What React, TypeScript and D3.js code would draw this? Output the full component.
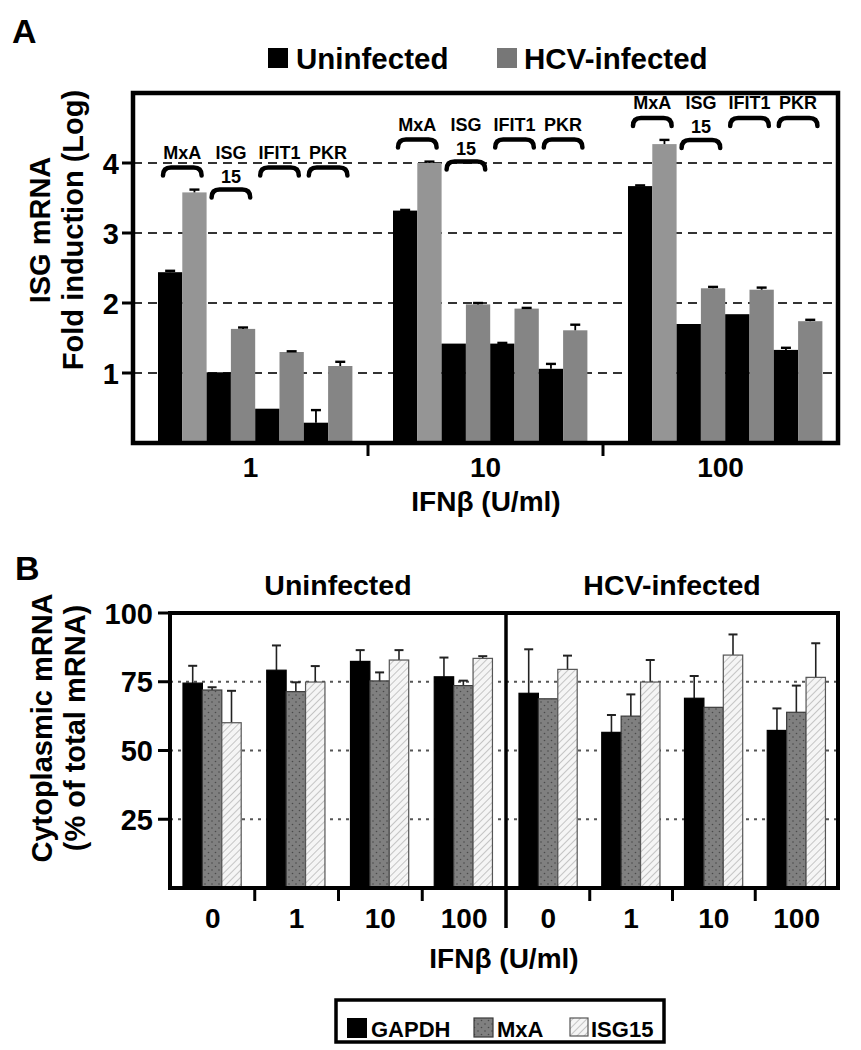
import React from "react";
import * as d3 from "d3";

// ---------- Panel A data ----------
const dosesA = ["1", "10", "100"];
const genesA = ["MxA", "ISG15", "IFIT1", "PKR"];
const uninfA = [
  [2.44, 1.01, 0.49, 0.29],
  [3.32, 1.42, 1.42, 1.06],
  [3.67, 1.7, 1.84, 1.33],
];
const uninfAErr = [
  [0.02, 0.0, 0.0, 0.18],
  [0.01, 0.0, 0.01, 0.07],
  [0.01, 0.0, 0.0, 0.03],
];
const hcvA = [
  [3.58, 1.63, 1.3, 1.1],
  [4.0, 1.98, 1.92, 1.61],
  [4.27, 2.21, 2.19, 1.74],
];
const hcvAErr = [
  [0.04, 0.02, 0.01, 0.06],
  [0.02, 0.02, 0.01, 0.08],
  [0.06, 0.02, 0.03, 0.02],
];
const yTicksA = [1, 2, 3, 4];
const legendA = ["Uninfected", "HCV-infected"];

// ---------- Panel B data ----------
const conditionsB = ["Uninfected", "HCV-infected"];
const dosesB = ["0", "1", "10", "100"];
const seriesB = ["GAPDH", "MxA", "ISG15"];
const gapdhB = [74.5, 79.2, 82.4, 76.8, 70.8, 56.6, 69.0, 57.3];
const gapdhErr = [6.3, 9.0, 4.1, 7.0, 16.0, 6.3, 8.1, 8.0];
const mxaB = [72.0, 71.4, 75.3, 73.6, 68.8, 62.5, 65.7, 63.9];
const mxaErr = [1.0, 3.4, 3.1, 1.8, 0, 7.9, 0, 9.7];
const isgB = [60.1, 74.9, 82.9, 83.5, 79.5, 74.9, 84.7, 76.6];
const isgErr = [11.6, 5.8, 3.6, 0.8, 5.0, 8.0, 7.5, 12.4];
const yTicksB = [25, 50, 75, 100];

const SANS = "'Liberation Sans', Arial, Helvetica, sans-serif";

const hcvGray = ["#959595", "#858585", "#858585", "#858585"];

function Bracket({ x0, x1, y }: { x0: number; x1: number; y: number }) {
  const r = 6;
  const d = `M${x0},${y + 8} Q${x0},${y} ${x0 + r + 2},${y} L${x1 - r - 2},${y} Q${x1},${y} ${x1},${y + 8}`;
  return <path d={d} fill="none" stroke="#000" strokeWidth={4.5} strokeLinecap="round" />;
}

function PanelA() {
  const left = 133, right = 838, top = 93, bottom = 443;
  const y = d3.scaleLinear().domain([0, 5]).range([bottom, top]);
  const gx = d3.scaleBand<string>().domain(dosesA).range([left, right]);
  const inner = d3.scaleBand<number>().domain(d3.range(8)).range([25, 25 + 8 * 24.3]);
  const bw = inner.bandwidth();

  const bars: any[] = [];
  const labels: any[] = [];
  dosesA.forEach((dose, gi) => {
    const g0 = gx(dose)!;
    let maxTop = 0;
    genesA.forEach((gene, k) => {
      const xu = g0 + inner(2 * k)!;
      const xh = g0 + inner(2 * k + 1)!;
      const vu = uninfA[gi][k], eu = uninfAErr[gi][k];
      const vh = hcvA[gi][k], eh = hcvAErr[gi][k];
      maxTop = Math.max(maxTop, vu + eu, vh + eh);
      bars.push(
        <g key={`${dose}-${gene}`}>
          <rect x={xu} y={y(vu)} width={bw} height={y(0) - y(vu)} fill="#000" />
          <rect x={xh} y={y(vh)} width={bw} height={y(0) - y(vh)} fill={hcvGray[k]} />
          {eu > 0 && (
            <g stroke="#000" strokeWidth={1.8}>
              <line x1={xu + bw / 2} x2={xu + bw / 2} y1={y(vu)} y2={y(vu + eu)} />
              <line x1={xu + bw / 2 - 5} x2={xu + bw / 2 + 5} y1={y(vu + eu)} y2={y(vu + eu)} strokeWidth={2.4} />
            </g>
          )}
          {eh > 0 && (
            <g stroke="#000" strokeWidth={1.8}>
              <line x1={xh + bw / 2} x2={xh + bw / 2} y1={y(vh)} y2={y(vh + eh)} />
              <line x1={xh + bw / 2 - 5} x2={xh + bw / 2 + 5} y1={y(vh + eh)} y2={y(vh + eh)} strokeWidth={2.4} />
            </g>
          )}
        </g>
      );
    });
    const by = y(maxTop) - 22;
    genesA.forEach((gene, k) => {
      const xa = g0 + inner(2 * k)!;
      const xb = g0 + inner(2 * k + 1)! + bw;
      const cx = (xa + xb) / 2;
      const isIsg = gene === "ISG15";
      labels.push(
        <g key={`lab-${dose}-${gene}`}>
          {isIsg ? (
            <>
              <text x={cx} y={by - 9} textAnchor="middle" fontFamily={SANS} fontWeight="bold" fontSize={18}>ISG</text>
              <text x={cx} y={by + 15} textAnchor="middle" fontFamily={SANS} fontWeight="bold" fontSize={18}>15</text>
              <Bracket x0={xa + 5} x1={xb - 5} y={by + 22} />
            </>
          ) : (
            <>
              <text x={cx} y={by - 9} textAnchor="middle" fontFamily={SANS} fontWeight="bold" fontSize={18}>{gene}</text>
              <Bracket x0={xa + 5} x1={xb - 5} y={by} />
            </>
          )}
        </g>
      );
    });
  });

  return (
    <g>
      <text x={12} y={43} fontFamily={SANS} fontWeight="bold" fontSize={34}>A</text>
      {/* legend */}
      <rect x={268} y={48} width={20} height={20} fill="#000" />
      <text x={296} y={69} fontFamily={SANS} fontWeight="bold" fontSize={29.5}>{legendA[0]}</text>
      <rect x={497} y={48} width={20} height={20} fill="#777" />
      <text x={524} y={69} fontFamily={SANS} fontWeight="bold" fontSize={29.5}>{legendA[1]}</text>
      {/* gridlines */}
      {yTicksA.map((t) => (
        <line key={t} x1={left} x2={right} y1={y(t)} y2={y(t)} stroke="#333" strokeWidth={2} strokeDasharray="9 6" />
      ))}
      {bars}
      {labels}
      {/* frame */}
      <rect x={left} y={top} width={right - left} height={bottom - top} fill="none" stroke="#000" strokeWidth={4.5} />
      {/* y ticks */}
      {yTicksA.map((t) => (
        <g key={t}>
          <line x1={left - 11} x2={left} y1={y(t)} y2={y(t)} stroke="#000" strokeWidth={3} />
          <text x={left - 14} y={y(t) + 10.5} textAnchor="end" fontFamily={SANS} fontWeight="bold" fontSize={29}>{t}</text>
        </g>
      ))}
      {/* x ticks between groups */}
      {dosesA.slice(1).map((d) => (
        <line key={d} x1={gx(d)!} x2={gx(d)!} y1={bottom} y2={bottom + 13} stroke="#000" strokeWidth={3} />
      ))}
      {dosesA.map((d) => (
        <text key={d} x={gx(d)! + gx.bandwidth() / 2} y={477} textAnchor="middle" fontFamily={SANS} fontWeight="bold" fontSize={28}>{d}</text>
      ))}
      <text x={486} y={511} textAnchor="middle" fontFamily={SANS} fontWeight="bold" fontSize={28}>IFNβ (U/ml)</text>
      {/* y label */}
      <g transform="translate(50,230) rotate(-90)">
        <text x={0} y={0} textAnchor="middle" fontFamily={SANS} fontWeight="bold" fontSize={29}>ISG mRNA</text>
        <text x={0} y={33} textAnchor="middle" fontFamily={SANS} fontWeight="bold" fontSize={29}>Fold induction (Log)</text>
      </g>
    </g>
  );
}

function PanelB() {
  const left = 170, right = 838, top = 613, bottom = 888, mid = 506;
  const y = d3.scaleLinear().domain([0, 100]).range([bottom, top]);
  const halves = [
    d3.scaleBand<string>().domain(dosesB).range([left + 1, mid]),
    d3.scaleBand<string>().domain(dosesB).range([mid + 1, right]),
  ];
  const inner = d3.scaleBand<string>().domain(seriesB).range([12, 12 + 3 * 19.4]);
  const bw = inner.bandwidth();
  const vals = [gapdhB, mxaB, isgB];
  const errs = [gapdhErr, mxaErr, isgErr];
  const fills = ["#000", "url(#dotPat)", "url(#hatchPat)"];
  const strokes = ["#000", "#3a3a3a", "#555"];

  const bars: any[] = [];
  conditionsB.forEach((cond, ci) => {
    const sx = halves[ci];
    dosesB.forEach((dose, di) => {
      const idx = ci * 4 + di;
      seriesB.forEach((s, si) => {
        const x = sx(dose)! + inner(s)!;
        const v = vals[si][idx];
        const e = errs[si][idx];
        bars.push(
          <g key={`${cond}-${dose}-${s}`}>
            {e > 0 && (
              <g stroke="#222" strokeWidth={1.6}>
                <line x1={x + bw / 2} x2={x + bw / 2} y1={y(v)} y2={y(v + e)} />
                <line x1={x + bw / 2 - 4.5} x2={x + bw / 2 + 4.5} y1={y(v + e)} y2={y(v + e)} strokeWidth={2} />
              </g>
            )}
            <rect x={x} y={y(v)} width={bw} height={y(0) - y(v)} fill={fills[si]} stroke={strokes[si]} strokeWidth={1.2} />
          </g>
        );
      });
    });
  });

  return (
    <g>
      <defs>
        <pattern id="dotPat" width={7} height={7} patternUnits="userSpaceOnUse">
          <rect width={7} height={7} fill="#808080" />
          <circle cx={2} cy={2} r={0.8} fill="#4a4a4a" />
          <circle cx={5.5} cy={5.5} r={0.8} fill="#4a4a4a" />
        </pattern>
        <pattern id="hatchPat" width={5} height={5} patternUnits="userSpaceOnUse" patternTransform="rotate(45)">
          <rect width={5} height={5} fill="#f5f5f5" />
          <line x1={0} y1={0} x2={0} y2={5} stroke="#b8b8b8" strokeWidth={1.6} />
        </pattern>
      </defs>
      <text x={15} y={580} fontFamily={SANS} fontWeight="bold" fontSize={34}>B</text>
      <text x={(left + mid) / 2} y={595} textAnchor="middle" fontFamily={SANS} fontWeight="bold" fontSize={28.5}>{conditionsB[0]}</text>
      <text x={(mid + right) / 2} y={595} textAnchor="middle" fontFamily={SANS} fontWeight="bold" fontSize={28.5}>{conditionsB[1]}</text>
      {yTicksB.filter((t) => t < 100).map((t) => (
        <line key={t} x1={left} x2={right} y1={y(t)} y2={y(t)} stroke="#555" strokeWidth={2} strokeDasharray="3 5" />
      ))}
      {bars}
      {/* frame */}
      <rect x={left} y={top} width={right - left} height={bottom - top} fill="none" stroke="#000" strokeWidth={4} />
      <line x1={mid} x2={mid} y1={top} y2={bottom + 40} stroke="#000" strokeWidth={3.5} />
      {yTicksB.map((t) => (
        <g key={t}>
          <line x1={left - 12} x2={left} y1={y(t)} y2={y(t)} stroke="#000" strokeWidth={3} />
          <text x={left - 17} y={y(t) + 10.5} textAnchor="end" fontFamily={SANS} fontWeight="bold" fontSize={29}>{t}</text>
        </g>
      ))}
      {halves.map((sx, hi) =>
        dosesB.slice(1).map((d) => (
          <line key={`${hi}-${d}`} x1={sx(d)!} x2={sx(d)!} y1={bottom} y2={bottom + 13} stroke="#000" strokeWidth={3} />
        ))
      )}
      {halves.map((sx, hi) =>
        dosesB.map((d) => (
          <text key={`${hi}-${d}`} x={sx(d)! + sx.bandwidth() / 2} y={928} textAnchor="middle" fontFamily={SANS} fontWeight="bold" fontSize={28}>{d}</text>
        ))
      )}
      <text x={(left + right) / 2} y={968} textAnchor="middle" fontFamily={SANS} fontWeight="bold" fontSize={28}>IFNβ (U/ml)</text>
      <g transform="translate(52,728) rotate(-90)">
        <text x={0} y={0} textAnchor="middle" fontFamily={SANS} fontWeight="bold" fontSize={29}>Cytoplasmic mRNA</text>
        <text x={0} y={33} textAnchor="middle" fontFamily={SANS} fontWeight="bold" fontSize={29}>(% of total mRNA)</text>
      </g>
      {/* legend */}
      <rect x={336} y={1000} width={328} height={42} fill="none" stroke="#000" strokeWidth={3.5} />
      <rect x={347} y={1018} width={20} height={20} fill="#000" />
      <text x={371} y={1037} fontFamily={SANS} fontWeight="bold" fontSize={22}>{seriesB[0]}</text>
      <rect x={474} y={1018} width={19} height={19} fill="url(#dotPat)" stroke="#3a3a3a" strokeWidth={1.2} />
      <text x={497} y={1037} fontFamily={SANS} fontWeight="bold" fontSize={22}>{seriesB[1]}</text>
      <rect x={570} y={1018} width={18} height={18} fill="url(#hatchPat)" stroke="#555" strokeWidth={1.2} />
      <text x={591} y={1037} fontFamily={SANS} fontWeight="bold" fontSize={22}>{seriesB[2]}</text>
    </g>
  );
}

export default function App() {
  return (
    <svg width={861} height={1050} style={{ position: "absolute", left: 0, top: 0, background: "#fff" }}>
      <rect width={861} height={1050} fill="#fff" />
      <PanelA />
      <PanelB />
    </svg>
  );
}
